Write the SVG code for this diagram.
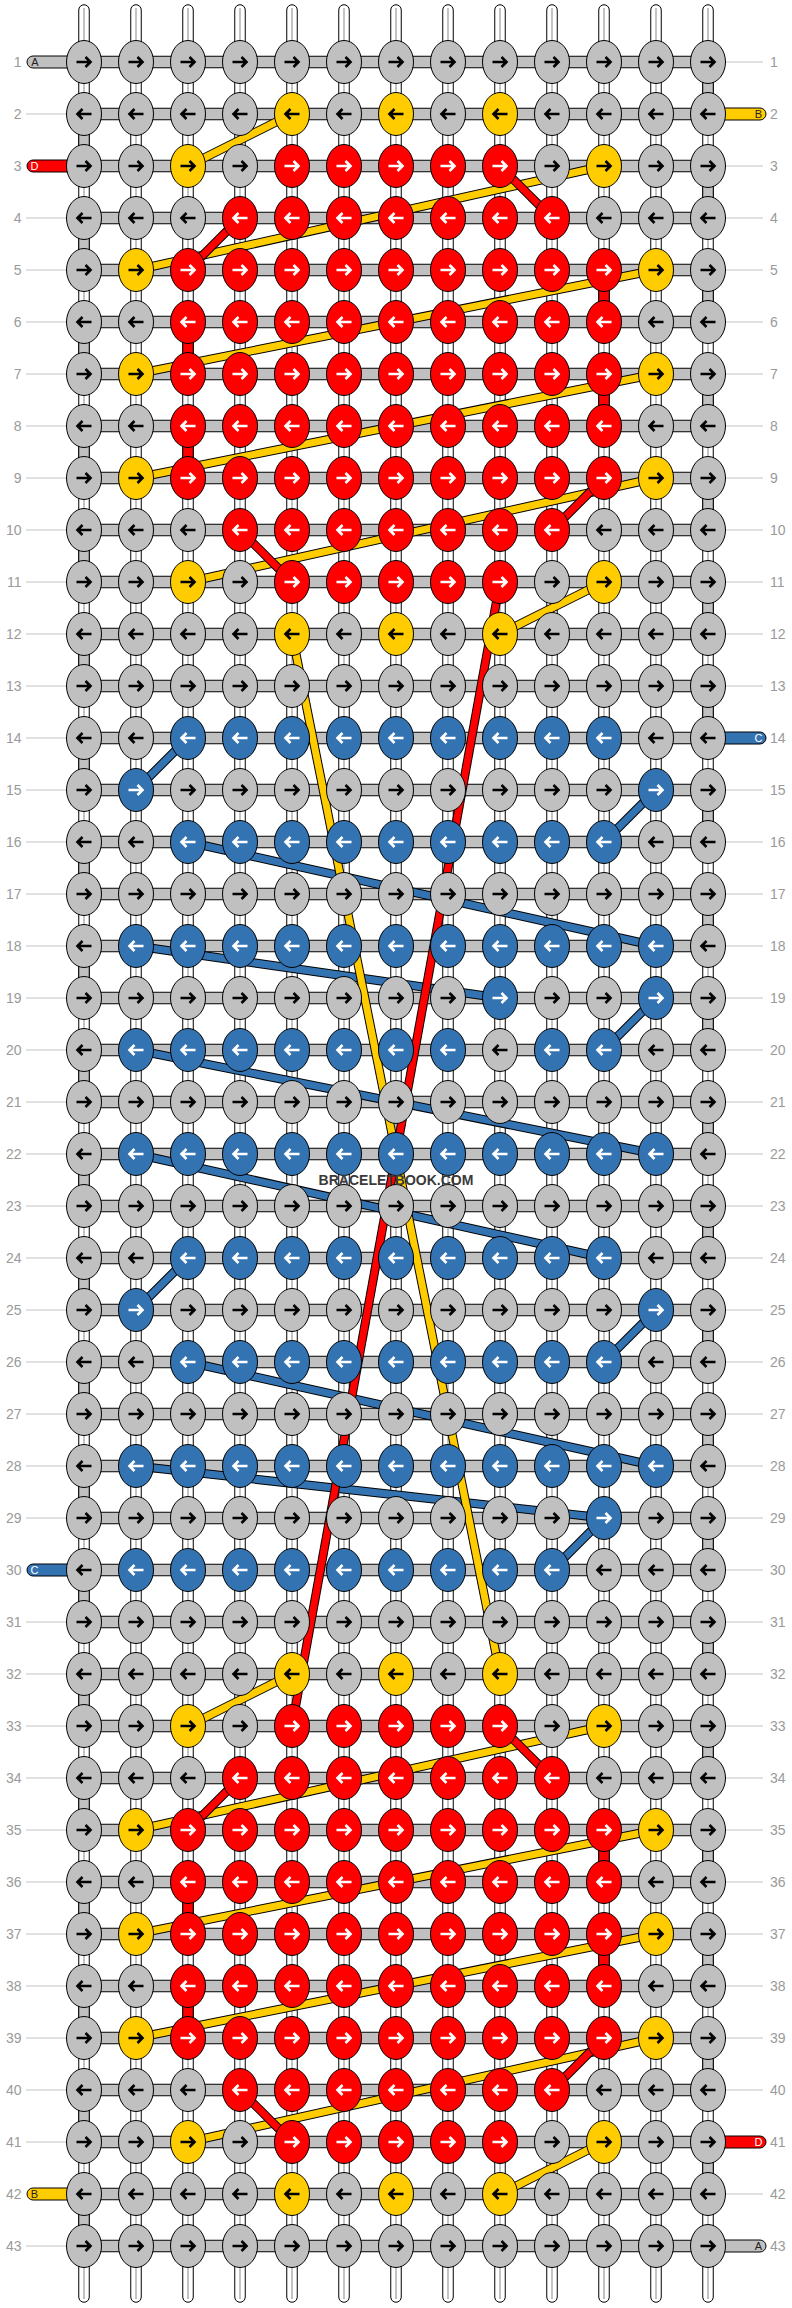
<svg xmlns="http://www.w3.org/2000/svg" width="792" height="2308" viewBox="0 0 792 2308">
<style>
ellipse{stroke:#000;stroke-width:1}
.g{fill:#c0c0c0;stroke:#000}.y{fill:#ffcc00;stroke:#000}.r{fill:#ff0000;stroke:#fff}.b{fill:#3373b2;stroke:#fff}
.vt{fill:#fff;stroke:#000;stroke-width:1}
.vc{stroke:#b4b4b4;stroke-width:1.6;fill:none}
.hb{fill:#c0c0c0;stroke:#000;stroke-width:1}
.sg{fill:#c0c0c0;stroke:#000;stroke-width:1}
.sr{fill:#ff0000;stroke:#000;stroke-width:1}
.ln{stroke:#c4c4c4;stroke-width:1}
.num{font-family:"Liberation Sans",Arial,sans-serif;font-size:14px;fill:#9a9a9a}
.tl{font-family:"Liberation Sans",Arial,sans-serif;font-size:11px;text-anchor:middle}
.o{stroke:#000;stroke-width:9;fill:none}
.cy{stroke:#ffcc00;stroke-width:7;fill:none}
.cr{stroke:#ff0000;stroke-width:7;fill:none}
.cb{stroke:#3373b2;stroke-width:7;fill:none}
.wm{font-family:"Liberation Sans",Arial,sans-serif;font-size:14px;font-weight:bold;fill:#3a3a3a;text-anchor:middle}
</style>
<defs>
<path id="R" d="M-7.5 0H5.5M1.5-5L6.5 0L1.5 5" fill="none" stroke-width="2.6"/>
<path id="L" d="M7.5 0H-5.5M-1.5-5L-6.5 0L-1.5 5" fill="none" stroke-width="2.6"/>
</defs>
<rect width="792" height="2308" fill="#fff"/>
<g id="threads">
<path class="vt" d="M78.75 2297V10a5.25 5.25 0 0 1 10.5 0V2297a5.25 5.25 0 0 1-10.5 0z"/>
<path class="vt" d="M130.75 2297V10a5.25 5.25 0 0 1 10.5 0V2297a5.25 5.25 0 0 1-10.5 0z"/>
<path class="vt" d="M182.75 2297V10a5.25 5.25 0 0 1 10.5 0V2297a5.25 5.25 0 0 1-10.5 0z"/>
<path class="vt" d="M234.75 2297V10a5.25 5.25 0 0 1 10.5 0V2297a5.25 5.25 0 0 1-10.5 0z"/>
<path class="vt" d="M286.75 2297V10a5.25 5.25 0 0 1 10.5 0V2297a5.25 5.25 0 0 1-10.5 0z"/>
<path class="vt" d="M338.75 2297V10a5.25 5.25 0 0 1 10.5 0V2297a5.25 5.25 0 0 1-10.5 0z"/>
<path class="vt" d="M390.75 2297V10a5.25 5.25 0 0 1 10.5 0V2297a5.25 5.25 0 0 1-10.5 0z"/>
<path class="vt" d="M442.75 2297V10a5.25 5.25 0 0 1 10.5 0V2297a5.25 5.25 0 0 1-10.5 0z"/>
<path class="vt" d="M494.75 2297V10a5.25 5.25 0 0 1 10.5 0V2297a5.25 5.25 0 0 1-10.5 0z"/>
<path class="vt" d="M546.75 2297V10a5.25 5.25 0 0 1 10.5 0V2297a5.25 5.25 0 0 1-10.5 0z"/>
<path class="vt" d="M598.75 2297V10a5.25 5.25 0 0 1 10.5 0V2297a5.25 5.25 0 0 1-10.5 0z"/>
<path class="vt" d="M650.75 2297V10a5.25 5.25 0 0 1 10.5 0V2297a5.25 5.25 0 0 1-10.5 0z"/>
<path class="vt" d="M702.75 2297V10a5.25 5.25 0 0 1 10.5 0V2297a5.25 5.25 0 0 1-10.5 0z"/>
<path class="vc" d="M84 8V2299M136 8V2299M188 8V2299M240 8V2299M292 8V2299M344 8V2299M396 8V2299M448 8V2299M500 8V2299M552 8V2299M604 8V2299M656 8V2299M708 8V2299"/>
<path class="sg" d="M702.75 72h10.5v32h-10.5zM702.75 176h10.5v32h-10.5zM702.75 280h10.5v32h-10.5zM702.75 384h10.5v32h-10.5zM702.75 488h10.5v32h-10.5zM702.75 592h10.5v32h-10.5zM702.75 696h10.5v32h-10.5zM702.75 800h10.5v32h-10.5zM702.75 904h10.5v32h-10.5zM702.75 1008h10.5v32h-10.5zM702.75 1112h10.5v32h-10.5zM702.75 1216h10.5v32h-10.5zM702.75 1320h10.5v32h-10.5zM702.75 1424h10.5v32h-10.5zM702.75 1528h10.5v32h-10.5zM702.75 1632h10.5v32h-10.5zM702.75 1736h10.5v32h-10.5zM702.75 1840h10.5v32h-10.5zM702.75 1944h10.5v32h-10.5zM702.75 2048h10.5v32h-10.5zM702.75 2152h10.5v32h-10.5z"/>
<path class="sg" d="M78.75 124h10.5v32h-10.5zM78.75 228h10.5v32h-10.5zM78.75 332h10.5v32h-10.5zM78.75 436h10.5v32h-10.5zM78.75 540h10.5v32h-10.5zM78.75 644h10.5v32h-10.5zM78.75 748h10.5v32h-10.5zM78.75 852h10.5v32h-10.5zM78.75 956h10.5v32h-10.5zM78.75 1060h10.5v32h-10.5zM78.75 1164h10.5v32h-10.5zM78.75 1268h10.5v32h-10.5zM78.75 1372h10.5v32h-10.5zM78.75 1476h10.5v32h-10.5zM78.75 1580h10.5v32h-10.5zM78.75 1684h10.5v32h-10.5zM78.75 1788h10.5v32h-10.5zM78.75 1892h10.5v32h-10.5zM78.75 1996h10.5v32h-10.5zM78.75 2100h10.5v32h-10.5zM78.75 2204h10.5v32h-10.5z"/>
<path class="sr" d="M598.75 280h10.5v32h-10.5zM598.75 384h10.5v32h-10.5zM598.75 1840h10.5v32h-10.5zM598.75 1944h10.5v32h-10.5zM182.75 332h10.5v32h-10.5zM182.75 436h10.5v32h-10.5zM182.75 1892h10.5v32h-10.5zM182.75 1996h10.5v32h-10.5z"/>
</g>
<g id="rows">
<path class="hb" d="M84 56.25h624v11.5h-624zM84 108.25h624v11.5h-624zM84 160.25h624v11.5h-624zM84 212.25h624v11.5h-624zM84 264.25h624v11.5h-624zM84 316.25h624v11.5h-624zM84 368.25h624v11.5h-624zM84 420.25h624v11.5h-624zM84 472.25h624v11.5h-624zM84 524.25h624v11.5h-624zM84 576.25h624v11.5h-624zM84 628.25h624v11.5h-624zM84 680.25h624v11.5h-624zM84 732.25h624v11.5h-624zM84 784.25h624v11.5h-624zM84 836.25h624v11.5h-624zM84 888.25h624v11.5h-624zM84 940.25h624v11.5h-624zM84 992.25h624v11.5h-624zM84 1044.25h624v11.5h-624zM84 1096.25h624v11.5h-624zM84 1148.25h624v11.5h-624zM84 1200.25h624v11.5h-624zM84 1252.25h624v11.5h-624zM84 1304.25h624v11.5h-624zM84 1356.25h624v11.5h-624zM84 1408.25h624v11.5h-624zM84 1460.25h624v11.5h-624zM84 1512.25h624v11.5h-624zM84 1564.25h624v11.5h-624zM84 1616.25h624v11.5h-624zM84 1668.25h624v11.5h-624zM84 1720.25h624v11.5h-624zM84 1772.25h624v11.5h-624zM84 1824.25h624v11.5h-624zM84 1876.25h624v11.5h-624zM84 1928.25h624v11.5h-624zM84 1980.25h624v11.5h-624zM84 2032.25h624v11.5h-624zM84 2084.25h624v11.5h-624zM84 2136.25h624v11.5h-624zM84 2188.25h624v11.5h-624zM84 2240.25h624v11.5h-624z"/>
</g>
<g id="tails">
<rect x="27" y="56" width="55" height="12" rx="6" fill="#c0c0c0" stroke="#000"/>
<text class="tl" x="35" y="66" fill="#222">A</text>
<rect x="27" y="160" width="55" height="12" rx="6" fill="#ff0000" stroke="#000"/>
<text class="tl" x="34.5" y="170" fill="#fff">D</text>
<rect x="27" y="1564" width="55" height="12" rx="6" fill="#3373b2" stroke="#000"/>
<text class="tl" x="34.5" y="1574" fill="#fff">C</text>
<rect x="27" y="2188" width="55" height="12" rx="6" fill="#ffcc00" stroke="#000"/>
<text class="tl" x="34.5" y="2198" fill="#222">B</text>
<rect x="710" y="108" width="56" height="12" rx="6" fill="#ffcc00" stroke="#000"/>
<text class="tl" x="758.5" y="118" fill="#222">B</text>
<rect x="710" y="732" width="56" height="12" rx="6" fill="#3373b2" stroke="#000"/>
<text class="tl" x="758.5" y="742" fill="#fff">C</text>
<rect x="710" y="2136" width="56" height="12" rx="6" fill="#ff0000" stroke="#000"/>
<text class="tl" x="758.5" y="2146" fill="#fff">D</text>
<rect x="710" y="2240" width="56" height="12" rx="6" fill="#c0c0c0" stroke="#000"/>
<text class="tl" x="758.5" y="2250" fill="#222">A</text>
</g>
<g id="labels">
<path class="ln" d="M26 114H67M26 218H67M26 270H67M26 322H67M26 374H67M26 426H67M26 478H67M26 530H67M26 582H67M26 634H67M26 686H67M26 738H67M26 790H67M26 842H67M26 894H67M26 946H67M26 998H67M26 1050H67M26 1102H67M26 1154H67M26 1206H67M26 1258H67M26 1310H67M26 1362H67M26 1414H67M26 1466H67M26 1518H67M26 1622H67M26 1674H67M26 1726H67M26 1778H67M26 1830H67M26 1882H67M26 1934H67M26 1986H67M26 2038H67M26 2090H67M26 2142H67M26 2246H67"/>
<path class="ln" d="M725 62H763M725 166H763M725 218H763M725 270H763M725 322H763M725 374H763M725 426H763M725 478H763M725 530H763M725 582H763M725 634H763M725 686H763M725 790H763M725 842H763M725 894H763M725 946H763M725 998H763M725 1050H763M725 1102H763M725 1154H763M725 1206H763M725 1258H763M725 1310H763M725 1362H763M725 1414H763M725 1466H763M725 1518H763M725 1570H763M725 1622H763M725 1674H763M725 1726H763M725 1778H763M725 1830H763M725 1882H763M725 1934H763M725 1986H763M725 2038H763M725 2090H763M725 2194H763"/>
<g class="num" text-anchor="end">
<text x="21.5" y="67">1</text><text x="21.5" y="119">2</text><text x="21.5" y="171">3</text><text x="21.5" y="223">4</text><text x="21.5" y="275">5</text><text x="21.5" y="327">6</text><text x="21.5" y="379">7</text><text x="21.5" y="431">8</text><text x="21.5" y="483">9</text><text x="21.5" y="535">10</text><text x="21.5" y="587">11</text><text x="21.5" y="639">12</text><text x="21.5" y="691">13</text><text x="21.5" y="743">14</text><text x="21.5" y="795">15</text><text x="21.5" y="847">16</text><text x="21.5" y="899">17</text><text x="21.5" y="951">18</text><text x="21.5" y="1003">19</text><text x="21.5" y="1055">20</text><text x="21.5" y="1107">21</text><text x="21.5" y="1159">22</text><text x="21.5" y="1211">23</text><text x="21.5" y="1263">24</text><text x="21.5" y="1315">25</text><text x="21.5" y="1367">26</text><text x="21.5" y="1419">27</text><text x="21.5" y="1471">28</text><text x="21.5" y="1523">29</text><text x="21.5" y="1575">30</text><text x="21.5" y="1627">31</text><text x="21.5" y="1679">32</text><text x="21.5" y="1731">33</text><text x="21.5" y="1783">34</text><text x="21.5" y="1835">35</text><text x="21.5" y="1887">36</text><text x="21.5" y="1939">37</text><text x="21.5" y="1991">38</text><text x="21.5" y="2043">39</text><text x="21.5" y="2095">40</text><text x="21.5" y="2147">41</text><text x="21.5" y="2199">42</text><text x="21.5" y="2251">43</text>
</g>
<g class="num">
<text x="770" y="67">1</text><text x="770" y="119">2</text><text x="770" y="171">3</text><text x="770" y="223">4</text><text x="770" y="275">5</text><text x="770" y="327">6</text><text x="770" y="379">7</text><text x="770" y="431">8</text><text x="770" y="483">9</text><text x="770" y="535">10</text><text x="770" y="587">11</text><text x="770" y="639">12</text><text x="770" y="691">13</text><text x="770" y="743">14</text><text x="770" y="795">15</text><text x="770" y="847">16</text><text x="770" y="899">17</text><text x="770" y="951">18</text><text x="770" y="1003">19</text><text x="770" y="1055">20</text><text x="770" y="1107">21</text><text x="770" y="1159">22</text><text x="770" y="1211">23</text><text x="770" y="1263">24</text><text x="770" y="1315">25</text><text x="770" y="1367">26</text><text x="770" y="1419">27</text><text x="770" y="1471">28</text><text x="770" y="1523">29</text><text x="770" y="1575">30</text><text x="770" y="1627">31</text><text x="770" y="1679">32</text><text x="770" y="1731">33</text><text x="770" y="1783">34</text><text x="770" y="1835">35</text><text x="770" y="1887">36</text><text x="770" y="1939">37</text><text x="770" y="1991">38</text><text x="770" y="2043">39</text><text x="770" y="2095">40</text><text x="770" y="2147">41</text><text x="770" y="2199">42</text><text x="770" y="2251">43</text>
</g>
</g>
<g id="connectors">
<path class="o" d="M188 738L136 790"/><path class="cb" d="M188 738L136 790"/>
<path class="o" d="M656 790L604 842"/><path class="cb" d="M656 790L604 842"/>
<path class="o" d="M188 842L656 946"/><path class="cb" d="M188 842L656 946"/>
<path class="o" d="M136 946L500 998"/><path class="cb" d="M136 946L500 998"/>
<path class="o" d="M656 998L604 1050"/><path class="cb" d="M656 998L604 1050"/>
<path class="o" d="M136 1050L656 1154"/><path class="cb" d="M136 1050L656 1154"/>
<path class="o" d="M136 1154L604 1258"/><path class="cb" d="M136 1154L604 1258"/>
<path class="o" d="M188 1258L136 1310"/><path class="cb" d="M188 1258L136 1310"/>
<path class="o" d="M656 1310L604 1362"/><path class="cb" d="M656 1310L604 1362"/>
<path class="o" d="M188 1362L656 1466"/><path class="cb" d="M188 1362L656 1466"/>
<path class="o" d="M136 1466L604 1518"/><path class="cb" d="M136 1466L604 1518"/>
<path class="o" d="M604 1518L552 1570"/><path class="cb" d="M604 1518L552 1570"/>
<path class="o" d="M292 114L188 166"/><path class="cy" d="M292 114L188 166"/>
<path class="o" d="M604 166L136 270"/><path class="cy" d="M604 166L136 270"/>
<path class="o" d="M656 270L136 374"/><path class="cy" d="M656 270L136 374"/>
<path class="o" d="M656 374L136 478"/><path class="cy" d="M656 374L136 478"/>
<path class="o" d="M656 478L188 582"/><path class="cy" d="M656 478L188 582"/>
<path class="o" d="M604 582L500 634"/><path class="cy" d="M604 582L500 634"/>
<path class="o" d="M292 634L500 1674"/><path class="cy" d="M292 634L500 1674"/>
<path class="o" d="M292 1674L188 1726"/><path class="cy" d="M292 1674L188 1726"/>
<path class="o" d="M604 1726L136 1830"/><path class="cy" d="M604 1726L136 1830"/>
<path class="o" d="M656 1830L136 1934"/><path class="cy" d="M656 1830L136 1934"/>
<path class="o" d="M656 1934L136 2038"/><path class="cy" d="M656 1934L136 2038"/>
<path class="o" d="M656 2038L188 2142"/><path class="cy" d="M656 2038L188 2142"/>
<path class="o" d="M604 2142L500 2194"/><path class="cy" d="M604 2142L500 2194"/>
<path class="o" d="M500 166L552 218"/><path class="cr" d="M500 166L552 218"/>
<path class="o" d="M240 218L188 270"/><path class="cr" d="M240 218L188 270"/>
<path class="o" d="M604 478L552 530"/><path class="cr" d="M604 478L552 530"/>
<path class="o" d="M240 530L292 582"/><path class="cr" d="M240 530L292 582"/>
<path class="o" d="M500 582L292 1726"/><path class="cr" d="M500 582L292 1726"/>
<path class="o" d="M500 1726L552 1778"/><path class="cr" d="M500 1726L552 1778"/>
<path class="o" d="M240 1778L188 1830"/><path class="cr" d="M240 1778L188 1830"/>
<path class="o" d="M604 2038L552 2090"/><path class="cr" d="M604 2038L552 2090"/>
<path class="o" d="M240 2090L292 2142"/><path class="cr" d="M240 2090L292 2142"/>
</g>
<g id="knots">
<g id="n1-1" class="g" transform="translate(84 62)"><ellipse rx="17.5" ry="21.5"/><use href="#R"/></g><g id="n1-2" class="g" transform="translate(136 62)"><ellipse rx="17.5" ry="21.5"/><use href="#R"/></g><g id="n1-3" class="g" transform="translate(188 62)"><ellipse rx="17.5" ry="21.5"/><use href="#R"/></g><g id="n1-4" class="g" transform="translate(240 62)"><ellipse rx="17.5" ry="21.5"/><use href="#R"/></g><g id="n1-5" class="g" transform="translate(292 62)"><ellipse rx="17.5" ry="21.5"/><use href="#R"/></g><g id="n1-6" class="g" transform="translate(344 62)"><ellipse rx="17.5" ry="21.5"/><use href="#R"/></g><g id="n1-7" class="g" transform="translate(396 62)"><ellipse rx="17.5" ry="21.5"/><use href="#R"/></g><g id="n1-8" class="g" transform="translate(448 62)"><ellipse rx="17.5" ry="21.5"/><use href="#R"/></g><g id="n1-9" class="g" transform="translate(500 62)"><ellipse rx="17.5" ry="21.5"/><use href="#R"/></g><g id="n1-10" class="g" transform="translate(552 62)"><ellipse rx="17.5" ry="21.5"/><use href="#R"/></g><g id="n1-11" class="g" transform="translate(604 62)"><ellipse rx="17.5" ry="21.5"/><use href="#R"/></g><g id="n1-12" class="g" transform="translate(656 62)"><ellipse rx="17.5" ry="21.5"/><use href="#R"/></g><g id="n1-13" class="g" transform="translate(708 62)"><ellipse rx="17.5" ry="21.5"/><use href="#R"/></g>
<g id="n2-1" class="g" transform="translate(84 114)"><ellipse rx="17.5" ry="21.5"/><use href="#L"/></g><g id="n2-2" class="g" transform="translate(136 114)"><ellipse rx="17.5" ry="21.5"/><use href="#L"/></g><g id="n2-3" class="g" transform="translate(188 114)"><ellipse rx="17.5" ry="21.5"/><use href="#L"/></g><g id="n2-4" class="g" transform="translate(240 114)"><ellipse rx="17.5" ry="21.5"/><use href="#L"/></g><g id="n2-5" class="y" transform="translate(292 114)"><ellipse rx="17.5" ry="21.5"/><use href="#L"/></g><g id="n2-6" class="g" transform="translate(344 114)"><ellipse rx="17.5" ry="21.5"/><use href="#L"/></g><g id="n2-7" class="y" transform="translate(396 114)"><ellipse rx="17.5" ry="21.5"/><use href="#L"/></g><g id="n2-8" class="g" transform="translate(448 114)"><ellipse rx="17.5" ry="21.5"/><use href="#L"/></g><g id="n2-9" class="y" transform="translate(500 114)"><ellipse rx="17.5" ry="21.5"/><use href="#L"/></g><g id="n2-10" class="g" transform="translate(552 114)"><ellipse rx="17.5" ry="21.5"/><use href="#L"/></g><g id="n2-11" class="g" transform="translate(604 114)"><ellipse rx="17.5" ry="21.5"/><use href="#L"/></g><g id="n2-12" class="g" transform="translate(656 114)"><ellipse rx="17.5" ry="21.5"/><use href="#L"/></g><g id="n2-13" class="g" transform="translate(708 114)"><ellipse rx="17.5" ry="21.5"/><use href="#L"/></g>
<g id="n3-1" class="g" transform="translate(84 166)"><ellipse rx="17.5" ry="21.5"/><use href="#R"/></g><g id="n3-2" class="g" transform="translate(136 166)"><ellipse rx="17.5" ry="21.5"/><use href="#R"/></g><g id="n3-3" class="y" transform="translate(188 166)"><ellipse rx="17.5" ry="21.5"/><use href="#R"/></g><g id="n3-4" class="g" transform="translate(240 166)"><ellipse rx="17.5" ry="21.5"/><use href="#R"/></g><g id="n3-5" class="r" transform="translate(292 166)"><ellipse rx="17.5" ry="21.5"/><use href="#R"/></g><g id="n3-6" class="r" transform="translate(344 166)"><ellipse rx="17.5" ry="21.5"/><use href="#R"/></g><g id="n3-7" class="r" transform="translate(396 166)"><ellipse rx="17.5" ry="21.5"/><use href="#R"/></g><g id="n3-8" class="r" transform="translate(448 166)"><ellipse rx="17.5" ry="21.5"/><use href="#R"/></g><g id="n3-9" class="r" transform="translate(500 166)"><ellipse rx="17.5" ry="21.5"/><use href="#R"/></g><g id="n3-10" class="g" transform="translate(552 166)"><ellipse rx="17.5" ry="21.5"/><use href="#R"/></g><g id="n3-11" class="y" transform="translate(604 166)"><ellipse rx="17.5" ry="21.5"/><use href="#R"/></g><g id="n3-12" class="g" transform="translate(656 166)"><ellipse rx="17.5" ry="21.5"/><use href="#R"/></g><g id="n3-13" class="g" transform="translate(708 166)"><ellipse rx="17.5" ry="21.5"/><use href="#R"/></g>
<g id="n4-1" class="g" transform="translate(84 218)"><ellipse rx="17.5" ry="21.5"/><use href="#L"/></g><g id="n4-2" class="g" transform="translate(136 218)"><ellipse rx="17.5" ry="21.5"/><use href="#L"/></g><g id="n4-3" class="g" transform="translate(188 218)"><ellipse rx="17.5" ry="21.5"/><use href="#L"/></g><g id="n4-4" class="r" transform="translate(240 218)"><ellipse rx="17.5" ry="21.5"/><use href="#L"/></g><g id="n4-5" class="r" transform="translate(292 218)"><ellipse rx="17.5" ry="21.5"/><use href="#L"/></g><g id="n4-6" class="r" transform="translate(344 218)"><ellipse rx="17.5" ry="21.5"/><use href="#L"/></g><g id="n4-7" class="r" transform="translate(396 218)"><ellipse rx="17.5" ry="21.5"/><use href="#L"/></g><g id="n4-8" class="r" transform="translate(448 218)"><ellipse rx="17.5" ry="21.5"/><use href="#L"/></g><g id="n4-9" class="r" transform="translate(500 218)"><ellipse rx="17.5" ry="21.5"/><use href="#L"/></g><g id="n4-10" class="r" transform="translate(552 218)"><ellipse rx="17.5" ry="21.5"/><use href="#L"/></g><g id="n4-11" class="g" transform="translate(604 218)"><ellipse rx="17.5" ry="21.5"/><use href="#L"/></g><g id="n4-12" class="g" transform="translate(656 218)"><ellipse rx="17.5" ry="21.5"/><use href="#L"/></g><g id="n4-13" class="g" transform="translate(708 218)"><ellipse rx="17.5" ry="21.5"/><use href="#L"/></g>
<g id="n5-1" class="g" transform="translate(84 270)"><ellipse rx="17.5" ry="21.5"/><use href="#R"/></g><g id="n5-2" class="y" transform="translate(136 270)"><ellipse rx="17.5" ry="21.5"/><use href="#R"/></g><g id="n5-3" class="r" transform="translate(188 270)"><ellipse rx="17.5" ry="21.5"/><use href="#R"/></g><g id="n5-4" class="r" transform="translate(240 270)"><ellipse rx="17.5" ry="21.5"/><use href="#R"/></g><g id="n5-5" class="r" transform="translate(292 270)"><ellipse rx="17.5" ry="21.5"/><use href="#R"/></g><g id="n5-6" class="r" transform="translate(344 270)"><ellipse rx="17.5" ry="21.5"/><use href="#R"/></g><g id="n5-7" class="r" transform="translate(396 270)"><ellipse rx="17.5" ry="21.5"/><use href="#R"/></g><g id="n5-8" class="r" transform="translate(448 270)"><ellipse rx="17.5" ry="21.5"/><use href="#R"/></g><g id="n5-9" class="r" transform="translate(500 270)"><ellipse rx="17.5" ry="21.5"/><use href="#R"/></g><g id="n5-10" class="r" transform="translate(552 270)"><ellipse rx="17.5" ry="21.5"/><use href="#R"/></g><g id="n5-11" class="r" transform="translate(604 270)"><ellipse rx="17.5" ry="21.5"/><use href="#R"/></g><g id="n5-12" class="y" transform="translate(656 270)"><ellipse rx="17.5" ry="21.5"/><use href="#R"/></g><g id="n5-13" class="g" transform="translate(708 270)"><ellipse rx="17.5" ry="21.5"/><use href="#R"/></g>
<g id="n6-1" class="g" transform="translate(84 322)"><ellipse rx="17.5" ry="21.5"/><use href="#L"/></g><g id="n6-2" class="g" transform="translate(136 322)"><ellipse rx="17.5" ry="21.5"/><use href="#L"/></g><g id="n6-3" class="r" transform="translate(188 322)"><ellipse rx="17.5" ry="21.5"/><use href="#L"/></g><g id="n6-4" class="r" transform="translate(240 322)"><ellipse rx="17.5" ry="21.5"/><use href="#L"/></g><g id="n6-5" class="r" transform="translate(292 322)"><ellipse rx="17.5" ry="21.5"/><use href="#L"/></g><g id="n6-6" class="r" transform="translate(344 322)"><ellipse rx="17.5" ry="21.5"/><use href="#L"/></g><g id="n6-7" class="r" transform="translate(396 322)"><ellipse rx="17.5" ry="21.5"/><use href="#L"/></g><g id="n6-8" class="r" transform="translate(448 322)"><ellipse rx="17.5" ry="21.5"/><use href="#L"/></g><g id="n6-9" class="r" transform="translate(500 322)"><ellipse rx="17.5" ry="21.5"/><use href="#L"/></g><g id="n6-10" class="r" transform="translate(552 322)"><ellipse rx="17.5" ry="21.5"/><use href="#L"/></g><g id="n6-11" class="r" transform="translate(604 322)"><ellipse rx="17.5" ry="21.5"/><use href="#L"/></g><g id="n6-12" class="g" transform="translate(656 322)"><ellipse rx="17.5" ry="21.5"/><use href="#L"/></g><g id="n6-13" class="g" transform="translate(708 322)"><ellipse rx="17.5" ry="21.5"/><use href="#L"/></g>
<g id="n7-1" class="g" transform="translate(84 374)"><ellipse rx="17.5" ry="21.5"/><use href="#R"/></g><g id="n7-2" class="y" transform="translate(136 374)"><ellipse rx="17.5" ry="21.5"/><use href="#R"/></g><g id="n7-3" class="r" transform="translate(188 374)"><ellipse rx="17.5" ry="21.5"/><use href="#R"/></g><g id="n7-4" class="r" transform="translate(240 374)"><ellipse rx="17.5" ry="21.5"/><use href="#R"/></g><g id="n7-5" class="r" transform="translate(292 374)"><ellipse rx="17.5" ry="21.5"/><use href="#R"/></g><g id="n7-6" class="r" transform="translate(344 374)"><ellipse rx="17.5" ry="21.5"/><use href="#R"/></g><g id="n7-7" class="r" transform="translate(396 374)"><ellipse rx="17.5" ry="21.5"/><use href="#R"/></g><g id="n7-8" class="r" transform="translate(448 374)"><ellipse rx="17.5" ry="21.5"/><use href="#R"/></g><g id="n7-9" class="r" transform="translate(500 374)"><ellipse rx="17.5" ry="21.5"/><use href="#R"/></g><g id="n7-10" class="r" transform="translate(552 374)"><ellipse rx="17.5" ry="21.5"/><use href="#R"/></g><g id="n7-11" class="r" transform="translate(604 374)"><ellipse rx="17.5" ry="21.5"/><use href="#R"/></g><g id="n7-12" class="y" transform="translate(656 374)"><ellipse rx="17.5" ry="21.5"/><use href="#R"/></g><g id="n7-13" class="g" transform="translate(708 374)"><ellipse rx="17.5" ry="21.5"/><use href="#R"/></g>
<g id="n8-1" class="g" transform="translate(84 426)"><ellipse rx="17.5" ry="21.5"/><use href="#L"/></g><g id="n8-2" class="g" transform="translate(136 426)"><ellipse rx="17.5" ry="21.5"/><use href="#L"/></g><g id="n8-3" class="r" transform="translate(188 426)"><ellipse rx="17.5" ry="21.5"/><use href="#L"/></g><g id="n8-4" class="r" transform="translate(240 426)"><ellipse rx="17.5" ry="21.5"/><use href="#L"/></g><g id="n8-5" class="r" transform="translate(292 426)"><ellipse rx="17.5" ry="21.5"/><use href="#L"/></g><g id="n8-6" class="r" transform="translate(344 426)"><ellipse rx="17.5" ry="21.5"/><use href="#L"/></g><g id="n8-7" class="r" transform="translate(396 426)"><ellipse rx="17.5" ry="21.5"/><use href="#L"/></g><g id="n8-8" class="r" transform="translate(448 426)"><ellipse rx="17.5" ry="21.5"/><use href="#L"/></g><g id="n8-9" class="r" transform="translate(500 426)"><ellipse rx="17.5" ry="21.5"/><use href="#L"/></g><g id="n8-10" class="r" transform="translate(552 426)"><ellipse rx="17.5" ry="21.5"/><use href="#L"/></g><g id="n8-11" class="r" transform="translate(604 426)"><ellipse rx="17.5" ry="21.5"/><use href="#L"/></g><g id="n8-12" class="g" transform="translate(656 426)"><ellipse rx="17.5" ry="21.5"/><use href="#L"/></g><g id="n8-13" class="g" transform="translate(708 426)"><ellipse rx="17.5" ry="21.5"/><use href="#L"/></g>
<g id="n9-1" class="g" transform="translate(84 478)"><ellipse rx="17.5" ry="21.5"/><use href="#R"/></g><g id="n9-2" class="y" transform="translate(136 478)"><ellipse rx="17.5" ry="21.5"/><use href="#R"/></g><g id="n9-3" class="r" transform="translate(188 478)"><ellipse rx="17.5" ry="21.5"/><use href="#R"/></g><g id="n9-4" class="r" transform="translate(240 478)"><ellipse rx="17.5" ry="21.5"/><use href="#R"/></g><g id="n9-5" class="r" transform="translate(292 478)"><ellipse rx="17.5" ry="21.5"/><use href="#R"/></g><g id="n9-6" class="r" transform="translate(344 478)"><ellipse rx="17.5" ry="21.5"/><use href="#R"/></g><g id="n9-7" class="r" transform="translate(396 478)"><ellipse rx="17.5" ry="21.5"/><use href="#R"/></g><g id="n9-8" class="r" transform="translate(448 478)"><ellipse rx="17.5" ry="21.5"/><use href="#R"/></g><g id="n9-9" class="r" transform="translate(500 478)"><ellipse rx="17.5" ry="21.5"/><use href="#R"/></g><g id="n9-10" class="r" transform="translate(552 478)"><ellipse rx="17.5" ry="21.5"/><use href="#R"/></g><g id="n9-11" class="r" transform="translate(604 478)"><ellipse rx="17.5" ry="21.5"/><use href="#R"/></g><g id="n9-12" class="y" transform="translate(656 478)"><ellipse rx="17.5" ry="21.5"/><use href="#R"/></g><g id="n9-13" class="g" transform="translate(708 478)"><ellipse rx="17.5" ry="21.5"/><use href="#R"/></g>
<g id="n10-1" class="g" transform="translate(84 530)"><ellipse rx="17.5" ry="21.5"/><use href="#L"/></g><g id="n10-2" class="g" transform="translate(136 530)"><ellipse rx="17.5" ry="21.5"/><use href="#L"/></g><g id="n10-3" class="g" transform="translate(188 530)"><ellipse rx="17.5" ry="21.5"/><use href="#L"/></g><g id="n10-4" class="r" transform="translate(240 530)"><ellipse rx="17.5" ry="21.5"/><use href="#L"/></g><g id="n10-5" class="r" transform="translate(292 530)"><ellipse rx="17.5" ry="21.5"/><use href="#L"/></g><g id="n10-6" class="r" transform="translate(344 530)"><ellipse rx="17.5" ry="21.5"/><use href="#L"/></g><g id="n10-7" class="r" transform="translate(396 530)"><ellipse rx="17.5" ry="21.5"/><use href="#L"/></g><g id="n10-8" class="r" transform="translate(448 530)"><ellipse rx="17.5" ry="21.5"/><use href="#L"/></g><g id="n10-9" class="r" transform="translate(500 530)"><ellipse rx="17.5" ry="21.5"/><use href="#L"/></g><g id="n10-10" class="r" transform="translate(552 530)"><ellipse rx="17.5" ry="21.5"/><use href="#L"/></g><g id="n10-11" class="g" transform="translate(604 530)"><ellipse rx="17.5" ry="21.5"/><use href="#L"/></g><g id="n10-12" class="g" transform="translate(656 530)"><ellipse rx="17.5" ry="21.5"/><use href="#L"/></g><g id="n10-13" class="g" transform="translate(708 530)"><ellipse rx="17.5" ry="21.5"/><use href="#L"/></g>
<g id="n11-1" class="g" transform="translate(84 582)"><ellipse rx="17.5" ry="21.5"/><use href="#R"/></g><g id="n11-2" class="g" transform="translate(136 582)"><ellipse rx="17.5" ry="21.5"/><use href="#R"/></g><g id="n11-3" class="y" transform="translate(188 582)"><ellipse rx="17.5" ry="21.5"/><use href="#R"/></g><g id="n11-4" class="g" transform="translate(240 582)"><ellipse rx="17.5" ry="21.5"/><use href="#R"/></g><g id="n11-5" class="r" transform="translate(292 582)"><ellipse rx="17.5" ry="21.5"/><use href="#R"/></g><g id="n11-6" class="r" transform="translate(344 582)"><ellipse rx="17.5" ry="21.5"/><use href="#R"/></g><g id="n11-7" class="r" transform="translate(396 582)"><ellipse rx="17.5" ry="21.5"/><use href="#R"/></g><g id="n11-8" class="r" transform="translate(448 582)"><ellipse rx="17.5" ry="21.5"/><use href="#R"/></g><g id="n11-9" class="r" transform="translate(500 582)"><ellipse rx="17.5" ry="21.5"/><use href="#R"/></g><g id="n11-10" class="g" transform="translate(552 582)"><ellipse rx="17.5" ry="21.5"/><use href="#R"/></g><g id="n11-11" class="y" transform="translate(604 582)"><ellipse rx="17.5" ry="21.5"/><use href="#R"/></g><g id="n11-12" class="g" transform="translate(656 582)"><ellipse rx="17.5" ry="21.5"/><use href="#R"/></g><g id="n11-13" class="g" transform="translate(708 582)"><ellipse rx="17.5" ry="21.5"/><use href="#R"/></g>
<g id="n12-1" class="g" transform="translate(84 634)"><ellipse rx="17.5" ry="21.5"/><use href="#L"/></g><g id="n12-2" class="g" transform="translate(136 634)"><ellipse rx="17.5" ry="21.5"/><use href="#L"/></g><g id="n12-3" class="g" transform="translate(188 634)"><ellipse rx="17.5" ry="21.5"/><use href="#L"/></g><g id="n12-4" class="g" transform="translate(240 634)"><ellipse rx="17.5" ry="21.5"/><use href="#L"/></g><g id="n12-5" class="y" transform="translate(292 634)"><ellipse rx="17.5" ry="21.5"/><use href="#L"/></g><g id="n12-6" class="g" transform="translate(344 634)"><ellipse rx="17.5" ry="21.5"/><use href="#L"/></g><g id="n12-7" class="y" transform="translate(396 634)"><ellipse rx="17.5" ry="21.5"/><use href="#L"/></g><g id="n12-8" class="g" transform="translate(448 634)"><ellipse rx="17.5" ry="21.5"/><use href="#L"/></g><g id="n12-9" class="y" transform="translate(500 634)"><ellipse rx="17.5" ry="21.5"/><use href="#L"/></g><g id="n12-10" class="g" transform="translate(552 634)"><ellipse rx="17.5" ry="21.5"/><use href="#L"/></g><g id="n12-11" class="g" transform="translate(604 634)"><ellipse rx="17.5" ry="21.5"/><use href="#L"/></g><g id="n12-12" class="g" transform="translate(656 634)"><ellipse rx="17.5" ry="21.5"/><use href="#L"/></g><g id="n12-13" class="g" transform="translate(708 634)"><ellipse rx="17.5" ry="21.5"/><use href="#L"/></g>
<g id="n13-1" class="g" transform="translate(84 686)"><ellipse rx="17.5" ry="21.5"/><use href="#R"/></g><g id="n13-2" class="g" transform="translate(136 686)"><ellipse rx="17.5" ry="21.5"/><use href="#R"/></g><g id="n13-3" class="g" transform="translate(188 686)"><ellipse rx="17.5" ry="21.5"/><use href="#R"/></g><g id="n13-4" class="g" transform="translate(240 686)"><ellipse rx="17.5" ry="21.5"/><use href="#R"/></g><g id="n13-5" class="g" transform="translate(292 686)"><ellipse rx="17.5" ry="21.5"/><use href="#R"/></g><g id="n13-6" class="g" transform="translate(344 686)"><ellipse rx="17.5" ry="21.5"/><use href="#R"/></g><g id="n13-7" class="g" transform="translate(396 686)"><ellipse rx="17.5" ry="21.5"/><use href="#R"/></g><g id="n13-8" class="g" transform="translate(448 686)"><ellipse rx="17.5" ry="21.5"/><use href="#R"/></g><g id="n13-9" class="g" transform="translate(500 686)"><ellipse rx="17.5" ry="21.5"/><use href="#R"/></g><g id="n13-10" class="g" transform="translate(552 686)"><ellipse rx="17.5" ry="21.5"/><use href="#R"/></g><g id="n13-11" class="g" transform="translate(604 686)"><ellipse rx="17.5" ry="21.5"/><use href="#R"/></g><g id="n13-12" class="g" transform="translate(656 686)"><ellipse rx="17.5" ry="21.5"/><use href="#R"/></g><g id="n13-13" class="g" transform="translate(708 686)"><ellipse rx="17.5" ry="21.5"/><use href="#R"/></g>
<g id="n14-1" class="g" transform="translate(84 738)"><ellipse rx="17.5" ry="21.5"/><use href="#L"/></g><g id="n14-2" class="g" transform="translate(136 738)"><ellipse rx="17.5" ry="21.5"/><use href="#L"/></g><g id="n14-3" class="b" transform="translate(188 738)"><ellipse rx="17.5" ry="21.5"/><use href="#L"/></g><g id="n14-4" class="b" transform="translate(240 738)"><ellipse rx="17.5" ry="21.5"/><use href="#L"/></g><g id="n14-5" class="b" transform="translate(292 738)"><ellipse rx="17.5" ry="21.5"/><use href="#L"/></g><g id="n14-6" class="b" transform="translate(344 738)"><ellipse rx="17.5" ry="21.5"/><use href="#L"/></g><g id="n14-7" class="b" transform="translate(396 738)"><ellipse rx="17.5" ry="21.5"/><use href="#L"/></g><g id="n14-8" class="b" transform="translate(448 738)"><ellipse rx="17.5" ry="21.5"/><use href="#L"/></g><g id="n14-9" class="b" transform="translate(500 738)"><ellipse rx="17.5" ry="21.5"/><use href="#L"/></g><g id="n14-10" class="b" transform="translate(552 738)"><ellipse rx="17.5" ry="21.5"/><use href="#L"/></g><g id="n14-11" class="b" transform="translate(604 738)"><ellipse rx="17.5" ry="21.5"/><use href="#L"/></g><g id="n14-12" class="g" transform="translate(656 738)"><ellipse rx="17.5" ry="21.5"/><use href="#L"/></g><g id="n14-13" class="g" transform="translate(708 738)"><ellipse rx="17.5" ry="21.5"/><use href="#L"/></g>
<g id="n15-1" class="g" transform="translate(84 790)"><ellipse rx="17.5" ry="21.5"/><use href="#R"/></g><g id="n15-2" class="b" transform="translate(136 790)"><ellipse rx="17.5" ry="21.5"/><use href="#R"/></g><g id="n15-3" class="g" transform="translate(188 790)"><ellipse rx="17.5" ry="21.5"/><use href="#R"/></g><g id="n15-4" class="g" transform="translate(240 790)"><ellipse rx="17.5" ry="21.5"/><use href="#R"/></g><g id="n15-5" class="g" transform="translate(292 790)"><ellipse rx="17.5" ry="21.5"/><use href="#R"/></g><g id="n15-6" class="g" transform="translate(344 790)"><ellipse rx="17.5" ry="21.5"/><use href="#R"/></g><g id="n15-7" class="g" transform="translate(396 790)"><ellipse rx="17.5" ry="21.5"/><use href="#R"/></g><g id="n15-8" class="g" transform="translate(448 790)"><ellipse rx="17.5" ry="21.5"/><use href="#R"/></g><g id="n15-9" class="g" transform="translate(500 790)"><ellipse rx="17.5" ry="21.5"/><use href="#R"/></g><g id="n15-10" class="g" transform="translate(552 790)"><ellipse rx="17.5" ry="21.5"/><use href="#R"/></g><g id="n15-11" class="g" transform="translate(604 790)"><ellipse rx="17.5" ry="21.5"/><use href="#R"/></g><g id="n15-12" class="b" transform="translate(656 790)"><ellipse rx="17.5" ry="21.5"/><use href="#R"/></g><g id="n15-13" class="g" transform="translate(708 790)"><ellipse rx="17.5" ry="21.5"/><use href="#R"/></g>
<g id="n16-1" class="g" transform="translate(84 842)"><ellipse rx="17.5" ry="21.5"/><use href="#L"/></g><g id="n16-2" class="g" transform="translate(136 842)"><ellipse rx="17.5" ry="21.5"/><use href="#L"/></g><g id="n16-3" class="b" transform="translate(188 842)"><ellipse rx="17.5" ry="21.5"/><use href="#L"/></g><g id="n16-4" class="b" transform="translate(240 842)"><ellipse rx="17.5" ry="21.5"/><use href="#L"/></g><g id="n16-5" class="b" transform="translate(292 842)"><ellipse rx="17.5" ry="21.5"/><use href="#L"/></g><g id="n16-6" class="b" transform="translate(344 842)"><ellipse rx="17.5" ry="21.5"/><use href="#L"/></g><g id="n16-7" class="b" transform="translate(396 842)"><ellipse rx="17.5" ry="21.5"/><use href="#L"/></g><g id="n16-8" class="b" transform="translate(448 842)"><ellipse rx="17.5" ry="21.5"/><use href="#L"/></g><g id="n16-9" class="b" transform="translate(500 842)"><ellipse rx="17.5" ry="21.5"/><use href="#L"/></g><g id="n16-10" class="b" transform="translate(552 842)"><ellipse rx="17.5" ry="21.5"/><use href="#L"/></g><g id="n16-11" class="b" transform="translate(604 842)"><ellipse rx="17.5" ry="21.5"/><use href="#L"/></g><g id="n16-12" class="g" transform="translate(656 842)"><ellipse rx="17.5" ry="21.5"/><use href="#L"/></g><g id="n16-13" class="g" transform="translate(708 842)"><ellipse rx="17.5" ry="21.5"/><use href="#L"/></g>
<g id="n17-1" class="g" transform="translate(84 894)"><ellipse rx="17.5" ry="21.5"/><use href="#R"/></g><g id="n17-2" class="g" transform="translate(136 894)"><ellipse rx="17.5" ry="21.5"/><use href="#R"/></g><g id="n17-3" class="g" transform="translate(188 894)"><ellipse rx="17.5" ry="21.5"/><use href="#R"/></g><g id="n17-4" class="g" transform="translate(240 894)"><ellipse rx="17.5" ry="21.5"/><use href="#R"/></g><g id="n17-5" class="g" transform="translate(292 894)"><ellipse rx="17.5" ry="21.5"/><use href="#R"/></g><g id="n17-6" class="g" transform="translate(344 894)"><ellipse rx="17.5" ry="21.5"/><use href="#R"/></g><g id="n17-7" class="g" transform="translate(396 894)"><ellipse rx="17.5" ry="21.5"/><use href="#R"/></g><g id="n17-8" class="g" transform="translate(448 894)"><ellipse rx="17.5" ry="21.5"/><use href="#R"/></g><g id="n17-9" class="g" transform="translate(500 894)"><ellipse rx="17.5" ry="21.5"/><use href="#R"/></g><g id="n17-10" class="g" transform="translate(552 894)"><ellipse rx="17.5" ry="21.5"/><use href="#R"/></g><g id="n17-11" class="g" transform="translate(604 894)"><ellipse rx="17.5" ry="21.5"/><use href="#R"/></g><g id="n17-12" class="g" transform="translate(656 894)"><ellipse rx="17.5" ry="21.5"/><use href="#R"/></g><g id="n17-13" class="g" transform="translate(708 894)"><ellipse rx="17.5" ry="21.5"/><use href="#R"/></g>
<g id="n18-1" class="g" transform="translate(84 946)"><ellipse rx="17.5" ry="21.5"/><use href="#L"/></g><g id="n18-2" class="b" transform="translate(136 946)"><ellipse rx="17.5" ry="21.5"/><use href="#L"/></g><g id="n18-3" class="b" transform="translate(188 946)"><ellipse rx="17.5" ry="21.5"/><use href="#L"/></g><g id="n18-4" class="b" transform="translate(240 946)"><ellipse rx="17.5" ry="21.5"/><use href="#L"/></g><g id="n18-5" class="b" transform="translate(292 946)"><ellipse rx="17.5" ry="21.5"/><use href="#L"/></g><g id="n18-6" class="b" transform="translate(344 946)"><ellipse rx="17.5" ry="21.5"/><use href="#L"/></g><g id="n18-7" class="b" transform="translate(396 946)"><ellipse rx="17.5" ry="21.5"/><use href="#L"/></g><g id="n18-8" class="b" transform="translate(448 946)"><ellipse rx="17.5" ry="21.5"/><use href="#L"/></g><g id="n18-9" class="b" transform="translate(500 946)"><ellipse rx="17.5" ry="21.5"/><use href="#L"/></g><g id="n18-10" class="b" transform="translate(552 946)"><ellipse rx="17.5" ry="21.5"/><use href="#L"/></g><g id="n18-11" class="b" transform="translate(604 946)"><ellipse rx="17.5" ry="21.5"/><use href="#L"/></g><g id="n18-12" class="b" transform="translate(656 946)"><ellipse rx="17.5" ry="21.5"/><use href="#L"/></g><g id="n18-13" class="g" transform="translate(708 946)"><ellipse rx="17.5" ry="21.5"/><use href="#L"/></g>
<g id="n19-1" class="g" transform="translate(84 998)"><ellipse rx="17.5" ry="21.5"/><use href="#R"/></g><g id="n19-2" class="g" transform="translate(136 998)"><ellipse rx="17.5" ry="21.5"/><use href="#R"/></g><g id="n19-3" class="g" transform="translate(188 998)"><ellipse rx="17.5" ry="21.5"/><use href="#R"/></g><g id="n19-4" class="g" transform="translate(240 998)"><ellipse rx="17.5" ry="21.5"/><use href="#R"/></g><g id="n19-5" class="g" transform="translate(292 998)"><ellipse rx="17.5" ry="21.5"/><use href="#R"/></g><g id="n19-6" class="g" transform="translate(344 998)"><ellipse rx="17.5" ry="21.5"/><use href="#R"/></g><g id="n19-7" class="g" transform="translate(396 998)"><ellipse rx="17.5" ry="21.5"/><use href="#R"/></g><g id="n19-8" class="g" transform="translate(448 998)"><ellipse rx="17.5" ry="21.5"/><use href="#R"/></g><g id="n19-9" class="b" transform="translate(500 998)"><ellipse rx="17.5" ry="21.5"/><use href="#R"/></g><g id="n19-10" class="g" transform="translate(552 998)"><ellipse rx="17.5" ry="21.5"/><use href="#R"/></g><g id="n19-11" class="g" transform="translate(604 998)"><ellipse rx="17.5" ry="21.5"/><use href="#R"/></g><g id="n19-12" class="b" transform="translate(656 998)"><ellipse rx="17.5" ry="21.5"/><use href="#R"/></g><g id="n19-13" class="g" transform="translate(708 998)"><ellipse rx="17.5" ry="21.5"/><use href="#R"/></g>
<g id="n20-1" class="g" transform="translate(84 1050)"><ellipse rx="17.5" ry="21.5"/><use href="#L"/></g><g id="n20-2" class="b" transform="translate(136 1050)"><ellipse rx="17.5" ry="21.5"/><use href="#L"/></g><g id="n20-3" class="b" transform="translate(188 1050)"><ellipse rx="17.5" ry="21.5"/><use href="#L"/></g><g id="n20-4" class="b" transform="translate(240 1050)"><ellipse rx="17.5" ry="21.5"/><use href="#L"/></g><g id="n20-5" class="b" transform="translate(292 1050)"><ellipse rx="17.5" ry="21.5"/><use href="#L"/></g><g id="n20-6" class="b" transform="translate(344 1050)"><ellipse rx="17.5" ry="21.5"/><use href="#L"/></g><g id="n20-7" class="b" transform="translate(396 1050)"><ellipse rx="17.5" ry="21.5"/><use href="#L"/></g><g id="n20-8" class="b" transform="translate(448 1050)"><ellipse rx="17.5" ry="21.5"/><use href="#L"/></g><g id="n20-9" class="g" transform="translate(500 1050)"><ellipse rx="17.5" ry="21.5"/><use href="#L"/></g><g id="n20-10" class="b" transform="translate(552 1050)"><ellipse rx="17.5" ry="21.5"/><use href="#L"/></g><g id="n20-11" class="b" transform="translate(604 1050)"><ellipse rx="17.5" ry="21.5"/><use href="#L"/></g><g id="n20-12" class="g" transform="translate(656 1050)"><ellipse rx="17.5" ry="21.5"/><use href="#L"/></g><g id="n20-13" class="g" transform="translate(708 1050)"><ellipse rx="17.5" ry="21.5"/><use href="#L"/></g>
<g id="n21-1" class="g" transform="translate(84 1102)"><ellipse rx="17.5" ry="21.5"/><use href="#R"/></g><g id="n21-2" class="g" transform="translate(136 1102)"><ellipse rx="17.5" ry="21.5"/><use href="#R"/></g><g id="n21-3" class="g" transform="translate(188 1102)"><ellipse rx="17.5" ry="21.5"/><use href="#R"/></g><g id="n21-4" class="g" transform="translate(240 1102)"><ellipse rx="17.5" ry="21.5"/><use href="#R"/></g><g id="n21-5" class="g" transform="translate(292 1102)"><ellipse rx="17.5" ry="21.5"/><use href="#R"/></g><g id="n21-6" class="g" transform="translate(344 1102)"><ellipse rx="17.5" ry="21.5"/><use href="#R"/></g><g id="n21-7" class="g" transform="translate(396 1102)"><ellipse rx="17.5" ry="21.5"/><use href="#R"/></g><g id="n21-8" class="g" transform="translate(448 1102)"><ellipse rx="17.5" ry="21.5"/><use href="#R"/></g><g id="n21-9" class="g" transform="translate(500 1102)"><ellipse rx="17.5" ry="21.5"/><use href="#R"/></g><g id="n21-10" class="g" transform="translate(552 1102)"><ellipse rx="17.5" ry="21.5"/><use href="#R"/></g><g id="n21-11" class="g" transform="translate(604 1102)"><ellipse rx="17.5" ry="21.5"/><use href="#R"/></g><g id="n21-12" class="g" transform="translate(656 1102)"><ellipse rx="17.5" ry="21.5"/><use href="#R"/></g><g id="n21-13" class="g" transform="translate(708 1102)"><ellipse rx="17.5" ry="21.5"/><use href="#R"/></g>
<g id="n22-1" class="g" transform="translate(84 1154)"><ellipse rx="17.5" ry="21.5"/><use href="#L"/></g><g id="n22-2" class="b" transform="translate(136 1154)"><ellipse rx="17.5" ry="21.5"/><use href="#L"/></g><g id="n22-3" class="b" transform="translate(188 1154)"><ellipse rx="17.5" ry="21.5"/><use href="#L"/></g><g id="n22-4" class="b" transform="translate(240 1154)"><ellipse rx="17.5" ry="21.5"/><use href="#L"/></g><g id="n22-5" class="b" transform="translate(292 1154)"><ellipse rx="17.5" ry="21.5"/><use href="#L"/></g><g id="n22-6" class="b" transform="translate(344 1154)"><ellipse rx="17.5" ry="21.5"/><use href="#L"/></g><g id="n22-7" class="b" transform="translate(396 1154)"><ellipse rx="17.5" ry="21.5"/><use href="#L"/></g><g id="n22-8" class="b" transform="translate(448 1154)"><ellipse rx="17.5" ry="21.5"/><use href="#L"/></g><g id="n22-9" class="b" transform="translate(500 1154)"><ellipse rx="17.5" ry="21.5"/><use href="#L"/></g><g id="n22-10" class="b" transform="translate(552 1154)"><ellipse rx="17.5" ry="21.5"/><use href="#L"/></g><g id="n22-11" class="b" transform="translate(604 1154)"><ellipse rx="17.5" ry="21.5"/><use href="#L"/></g><g id="n22-12" class="b" transform="translate(656 1154)"><ellipse rx="17.5" ry="21.5"/><use href="#L"/></g><g id="n22-13" class="g" transform="translate(708 1154)"><ellipse rx="17.5" ry="21.5"/><use href="#L"/></g>
<g id="n23-1" class="g" transform="translate(84 1206)"><ellipse rx="17.5" ry="21.5"/><use href="#R"/></g><g id="n23-2" class="g" transform="translate(136 1206)"><ellipse rx="17.5" ry="21.5"/><use href="#R"/></g><g id="n23-3" class="g" transform="translate(188 1206)"><ellipse rx="17.5" ry="21.5"/><use href="#R"/></g><g id="n23-4" class="g" transform="translate(240 1206)"><ellipse rx="17.5" ry="21.5"/><use href="#R"/></g><g id="n23-5" class="g" transform="translate(292 1206)"><ellipse rx="17.5" ry="21.5"/><use href="#R"/></g><g id="n23-6" class="g" transform="translate(344 1206)"><ellipse rx="17.5" ry="21.5"/><use href="#R"/></g><g id="n23-7" class="g" transform="translate(396 1206)"><ellipse rx="17.5" ry="21.5"/><use href="#R"/></g><g id="n23-8" class="g" transform="translate(448 1206)"><ellipse rx="17.5" ry="21.5"/><use href="#R"/></g><g id="n23-9" class="g" transform="translate(500 1206)"><ellipse rx="17.5" ry="21.5"/><use href="#R"/></g><g id="n23-10" class="g" transform="translate(552 1206)"><ellipse rx="17.5" ry="21.5"/><use href="#R"/></g><g id="n23-11" class="g" transform="translate(604 1206)"><ellipse rx="17.5" ry="21.5"/><use href="#R"/></g><g id="n23-12" class="g" transform="translate(656 1206)"><ellipse rx="17.5" ry="21.5"/><use href="#R"/></g><g id="n23-13" class="g" transform="translate(708 1206)"><ellipse rx="17.5" ry="21.5"/><use href="#R"/></g>
<g id="n24-1" class="g" transform="translate(84 1258)"><ellipse rx="17.5" ry="21.5"/><use href="#L"/></g><g id="n24-2" class="g" transform="translate(136 1258)"><ellipse rx="17.5" ry="21.5"/><use href="#L"/></g><g id="n24-3" class="b" transform="translate(188 1258)"><ellipse rx="17.5" ry="21.5"/><use href="#L"/></g><g id="n24-4" class="b" transform="translate(240 1258)"><ellipse rx="17.5" ry="21.5"/><use href="#L"/></g><g id="n24-5" class="b" transform="translate(292 1258)"><ellipse rx="17.5" ry="21.5"/><use href="#L"/></g><g id="n24-6" class="b" transform="translate(344 1258)"><ellipse rx="17.5" ry="21.5"/><use href="#L"/></g><g id="n24-7" class="b" transform="translate(396 1258)"><ellipse rx="17.5" ry="21.5"/><use href="#L"/></g><g id="n24-8" class="b" transform="translate(448 1258)"><ellipse rx="17.5" ry="21.5"/><use href="#L"/></g><g id="n24-9" class="b" transform="translate(500 1258)"><ellipse rx="17.5" ry="21.5"/><use href="#L"/></g><g id="n24-10" class="b" transform="translate(552 1258)"><ellipse rx="17.5" ry="21.5"/><use href="#L"/></g><g id="n24-11" class="b" transform="translate(604 1258)"><ellipse rx="17.5" ry="21.5"/><use href="#L"/></g><g id="n24-12" class="g" transform="translate(656 1258)"><ellipse rx="17.5" ry="21.5"/><use href="#L"/></g><g id="n24-13" class="g" transform="translate(708 1258)"><ellipse rx="17.5" ry="21.5"/><use href="#L"/></g>
<g id="n25-1" class="g" transform="translate(84 1310)"><ellipse rx="17.5" ry="21.5"/><use href="#R"/></g><g id="n25-2" class="b" transform="translate(136 1310)"><ellipse rx="17.5" ry="21.5"/><use href="#R"/></g><g id="n25-3" class="g" transform="translate(188 1310)"><ellipse rx="17.5" ry="21.5"/><use href="#R"/></g><g id="n25-4" class="g" transform="translate(240 1310)"><ellipse rx="17.5" ry="21.5"/><use href="#R"/></g><g id="n25-5" class="g" transform="translate(292 1310)"><ellipse rx="17.5" ry="21.5"/><use href="#R"/></g><g id="n25-6" class="g" transform="translate(344 1310)"><ellipse rx="17.5" ry="21.5"/><use href="#R"/></g><g id="n25-7" class="g" transform="translate(396 1310)"><ellipse rx="17.5" ry="21.5"/><use href="#R"/></g><g id="n25-8" class="g" transform="translate(448 1310)"><ellipse rx="17.5" ry="21.5"/><use href="#R"/></g><g id="n25-9" class="g" transform="translate(500 1310)"><ellipse rx="17.5" ry="21.5"/><use href="#R"/></g><g id="n25-10" class="g" transform="translate(552 1310)"><ellipse rx="17.5" ry="21.5"/><use href="#R"/></g><g id="n25-11" class="g" transform="translate(604 1310)"><ellipse rx="17.5" ry="21.5"/><use href="#R"/></g><g id="n25-12" class="b" transform="translate(656 1310)"><ellipse rx="17.5" ry="21.5"/><use href="#R"/></g><g id="n25-13" class="g" transform="translate(708 1310)"><ellipse rx="17.5" ry="21.5"/><use href="#R"/></g>
<g id="n26-1" class="g" transform="translate(84 1362)"><ellipse rx="17.5" ry="21.5"/><use href="#L"/></g><g id="n26-2" class="g" transform="translate(136 1362)"><ellipse rx="17.5" ry="21.5"/><use href="#L"/></g><g id="n26-3" class="b" transform="translate(188 1362)"><ellipse rx="17.5" ry="21.5"/><use href="#L"/></g><g id="n26-4" class="b" transform="translate(240 1362)"><ellipse rx="17.5" ry="21.5"/><use href="#L"/></g><g id="n26-5" class="b" transform="translate(292 1362)"><ellipse rx="17.5" ry="21.5"/><use href="#L"/></g><g id="n26-6" class="b" transform="translate(344 1362)"><ellipse rx="17.5" ry="21.5"/><use href="#L"/></g><g id="n26-7" class="b" transform="translate(396 1362)"><ellipse rx="17.5" ry="21.5"/><use href="#L"/></g><g id="n26-8" class="b" transform="translate(448 1362)"><ellipse rx="17.5" ry="21.5"/><use href="#L"/></g><g id="n26-9" class="b" transform="translate(500 1362)"><ellipse rx="17.5" ry="21.5"/><use href="#L"/></g><g id="n26-10" class="b" transform="translate(552 1362)"><ellipse rx="17.5" ry="21.5"/><use href="#L"/></g><g id="n26-11" class="b" transform="translate(604 1362)"><ellipse rx="17.5" ry="21.5"/><use href="#L"/></g><g id="n26-12" class="g" transform="translate(656 1362)"><ellipse rx="17.5" ry="21.5"/><use href="#L"/></g><g id="n26-13" class="g" transform="translate(708 1362)"><ellipse rx="17.5" ry="21.5"/><use href="#L"/></g>
<g id="n27-1" class="g" transform="translate(84 1414)"><ellipse rx="17.5" ry="21.5"/><use href="#R"/></g><g id="n27-2" class="g" transform="translate(136 1414)"><ellipse rx="17.5" ry="21.5"/><use href="#R"/></g><g id="n27-3" class="g" transform="translate(188 1414)"><ellipse rx="17.5" ry="21.5"/><use href="#R"/></g><g id="n27-4" class="g" transform="translate(240 1414)"><ellipse rx="17.5" ry="21.5"/><use href="#R"/></g><g id="n27-5" class="g" transform="translate(292 1414)"><ellipse rx="17.5" ry="21.5"/><use href="#R"/></g><g id="n27-6" class="g" transform="translate(344 1414)"><ellipse rx="17.5" ry="21.5"/><use href="#R"/></g><g id="n27-7" class="g" transform="translate(396 1414)"><ellipse rx="17.5" ry="21.5"/><use href="#R"/></g><g id="n27-8" class="g" transform="translate(448 1414)"><ellipse rx="17.5" ry="21.5"/><use href="#R"/></g><g id="n27-9" class="g" transform="translate(500 1414)"><ellipse rx="17.5" ry="21.5"/><use href="#R"/></g><g id="n27-10" class="g" transform="translate(552 1414)"><ellipse rx="17.5" ry="21.5"/><use href="#R"/></g><g id="n27-11" class="g" transform="translate(604 1414)"><ellipse rx="17.5" ry="21.5"/><use href="#R"/></g><g id="n27-12" class="g" transform="translate(656 1414)"><ellipse rx="17.5" ry="21.5"/><use href="#R"/></g><g id="n27-13" class="g" transform="translate(708 1414)"><ellipse rx="17.5" ry="21.5"/><use href="#R"/></g>
<g id="n28-1" class="g" transform="translate(84 1466)"><ellipse rx="17.5" ry="21.5"/><use href="#L"/></g><g id="n28-2" class="b" transform="translate(136 1466)"><ellipse rx="17.5" ry="21.5"/><use href="#L"/></g><g id="n28-3" class="b" transform="translate(188 1466)"><ellipse rx="17.5" ry="21.5"/><use href="#L"/></g><g id="n28-4" class="b" transform="translate(240 1466)"><ellipse rx="17.5" ry="21.5"/><use href="#L"/></g><g id="n28-5" class="b" transform="translate(292 1466)"><ellipse rx="17.5" ry="21.5"/><use href="#L"/></g><g id="n28-6" class="b" transform="translate(344 1466)"><ellipse rx="17.5" ry="21.5"/><use href="#L"/></g><g id="n28-7" class="b" transform="translate(396 1466)"><ellipse rx="17.5" ry="21.5"/><use href="#L"/></g><g id="n28-8" class="b" transform="translate(448 1466)"><ellipse rx="17.5" ry="21.5"/><use href="#L"/></g><g id="n28-9" class="b" transform="translate(500 1466)"><ellipse rx="17.5" ry="21.5"/><use href="#L"/></g><g id="n28-10" class="b" transform="translate(552 1466)"><ellipse rx="17.5" ry="21.5"/><use href="#L"/></g><g id="n28-11" class="b" transform="translate(604 1466)"><ellipse rx="17.5" ry="21.5"/><use href="#L"/></g><g id="n28-12" class="b" transform="translate(656 1466)"><ellipse rx="17.5" ry="21.5"/><use href="#L"/></g><g id="n28-13" class="g" transform="translate(708 1466)"><ellipse rx="17.5" ry="21.5"/><use href="#L"/></g>
<g id="n29-1" class="g" transform="translate(84 1518)"><ellipse rx="17.5" ry="21.5"/><use href="#R"/></g><g id="n29-2" class="g" transform="translate(136 1518)"><ellipse rx="17.5" ry="21.5"/><use href="#R"/></g><g id="n29-3" class="g" transform="translate(188 1518)"><ellipse rx="17.5" ry="21.5"/><use href="#R"/></g><g id="n29-4" class="g" transform="translate(240 1518)"><ellipse rx="17.5" ry="21.5"/><use href="#R"/></g><g id="n29-5" class="g" transform="translate(292 1518)"><ellipse rx="17.5" ry="21.5"/><use href="#R"/></g><g id="n29-6" class="g" transform="translate(344 1518)"><ellipse rx="17.5" ry="21.5"/><use href="#R"/></g><g id="n29-7" class="g" transform="translate(396 1518)"><ellipse rx="17.5" ry="21.5"/><use href="#R"/></g><g id="n29-8" class="g" transform="translate(448 1518)"><ellipse rx="17.5" ry="21.5"/><use href="#R"/></g><g id="n29-9" class="g" transform="translate(500 1518)"><ellipse rx="17.5" ry="21.5"/><use href="#R"/></g><g id="n29-10" class="g" transform="translate(552 1518)"><ellipse rx="17.5" ry="21.5"/><use href="#R"/></g><g id="n29-11" class="b" transform="translate(604 1518)"><ellipse rx="17.5" ry="21.5"/><use href="#R"/></g><g id="n29-12" class="g" transform="translate(656 1518)"><ellipse rx="17.5" ry="21.5"/><use href="#R"/></g><g id="n29-13" class="g" transform="translate(708 1518)"><ellipse rx="17.5" ry="21.5"/><use href="#R"/></g>
<g id="n30-1" class="g" transform="translate(84 1570)"><ellipse rx="17.5" ry="21.5"/><use href="#L"/></g><g id="n30-2" class="b" transform="translate(136 1570)"><ellipse rx="17.5" ry="21.5"/><use href="#L"/></g><g id="n30-3" class="b" transform="translate(188 1570)"><ellipse rx="17.5" ry="21.5"/><use href="#L"/></g><g id="n30-4" class="b" transform="translate(240 1570)"><ellipse rx="17.5" ry="21.5"/><use href="#L"/></g><g id="n30-5" class="b" transform="translate(292 1570)"><ellipse rx="17.5" ry="21.5"/><use href="#L"/></g><g id="n30-6" class="b" transform="translate(344 1570)"><ellipse rx="17.5" ry="21.5"/><use href="#L"/></g><g id="n30-7" class="b" transform="translate(396 1570)"><ellipse rx="17.5" ry="21.5"/><use href="#L"/></g><g id="n30-8" class="b" transform="translate(448 1570)"><ellipse rx="17.5" ry="21.5"/><use href="#L"/></g><g id="n30-9" class="b" transform="translate(500 1570)"><ellipse rx="17.5" ry="21.5"/><use href="#L"/></g><g id="n30-10" class="b" transform="translate(552 1570)"><ellipse rx="17.5" ry="21.5"/><use href="#L"/></g><g id="n30-11" class="g" transform="translate(604 1570)"><ellipse rx="17.5" ry="21.5"/><use href="#L"/></g><g id="n30-12" class="g" transform="translate(656 1570)"><ellipse rx="17.5" ry="21.5"/><use href="#L"/></g><g id="n30-13" class="g" transform="translate(708 1570)"><ellipse rx="17.5" ry="21.5"/><use href="#L"/></g>
<g id="n31-1" class="g" transform="translate(84 1622)"><ellipse rx="17.5" ry="21.5"/><use href="#R"/></g><g id="n31-2" class="g" transform="translate(136 1622)"><ellipse rx="17.5" ry="21.5"/><use href="#R"/></g><g id="n31-3" class="g" transform="translate(188 1622)"><ellipse rx="17.5" ry="21.5"/><use href="#R"/></g><g id="n31-4" class="g" transform="translate(240 1622)"><ellipse rx="17.5" ry="21.5"/><use href="#R"/></g><g id="n31-5" class="g" transform="translate(292 1622)"><ellipse rx="17.5" ry="21.5"/><use href="#R"/></g><g id="n31-6" class="g" transform="translate(344 1622)"><ellipse rx="17.5" ry="21.5"/><use href="#R"/></g><g id="n31-7" class="g" transform="translate(396 1622)"><ellipse rx="17.5" ry="21.5"/><use href="#R"/></g><g id="n31-8" class="g" transform="translate(448 1622)"><ellipse rx="17.5" ry="21.5"/><use href="#R"/></g><g id="n31-9" class="g" transform="translate(500 1622)"><ellipse rx="17.5" ry="21.5"/><use href="#R"/></g><g id="n31-10" class="g" transform="translate(552 1622)"><ellipse rx="17.5" ry="21.5"/><use href="#R"/></g><g id="n31-11" class="g" transform="translate(604 1622)"><ellipse rx="17.5" ry="21.5"/><use href="#R"/></g><g id="n31-12" class="g" transform="translate(656 1622)"><ellipse rx="17.5" ry="21.5"/><use href="#R"/></g><g id="n31-13" class="g" transform="translate(708 1622)"><ellipse rx="17.5" ry="21.5"/><use href="#R"/></g>
<g id="n32-1" class="g" transform="translate(84 1674)"><ellipse rx="17.5" ry="21.5"/><use href="#L"/></g><g id="n32-2" class="g" transform="translate(136 1674)"><ellipse rx="17.5" ry="21.5"/><use href="#L"/></g><g id="n32-3" class="g" transform="translate(188 1674)"><ellipse rx="17.5" ry="21.5"/><use href="#L"/></g><g id="n32-4" class="g" transform="translate(240 1674)"><ellipse rx="17.5" ry="21.5"/><use href="#L"/></g><g id="n32-5" class="y" transform="translate(292 1674)"><ellipse rx="17.5" ry="21.5"/><use href="#L"/></g><g id="n32-6" class="g" transform="translate(344 1674)"><ellipse rx="17.5" ry="21.5"/><use href="#L"/></g><g id="n32-7" class="y" transform="translate(396 1674)"><ellipse rx="17.5" ry="21.5"/><use href="#L"/></g><g id="n32-8" class="g" transform="translate(448 1674)"><ellipse rx="17.5" ry="21.5"/><use href="#L"/></g><g id="n32-9" class="y" transform="translate(500 1674)"><ellipse rx="17.5" ry="21.5"/><use href="#L"/></g><g id="n32-10" class="g" transform="translate(552 1674)"><ellipse rx="17.5" ry="21.5"/><use href="#L"/></g><g id="n32-11" class="g" transform="translate(604 1674)"><ellipse rx="17.5" ry="21.5"/><use href="#L"/></g><g id="n32-12" class="g" transform="translate(656 1674)"><ellipse rx="17.5" ry="21.5"/><use href="#L"/></g><g id="n32-13" class="g" transform="translate(708 1674)"><ellipse rx="17.5" ry="21.5"/><use href="#L"/></g>
<g id="n33-1" class="g" transform="translate(84 1726)"><ellipse rx="17.5" ry="21.5"/><use href="#R"/></g><g id="n33-2" class="g" transform="translate(136 1726)"><ellipse rx="17.5" ry="21.5"/><use href="#R"/></g><g id="n33-3" class="y" transform="translate(188 1726)"><ellipse rx="17.5" ry="21.5"/><use href="#R"/></g><g id="n33-4" class="g" transform="translate(240 1726)"><ellipse rx="17.5" ry="21.5"/><use href="#R"/></g><g id="n33-5" class="r" transform="translate(292 1726)"><ellipse rx="17.5" ry="21.5"/><use href="#R"/></g><g id="n33-6" class="r" transform="translate(344 1726)"><ellipse rx="17.5" ry="21.5"/><use href="#R"/></g><g id="n33-7" class="r" transform="translate(396 1726)"><ellipse rx="17.5" ry="21.5"/><use href="#R"/></g><g id="n33-8" class="r" transform="translate(448 1726)"><ellipse rx="17.5" ry="21.5"/><use href="#R"/></g><g id="n33-9" class="r" transform="translate(500 1726)"><ellipse rx="17.5" ry="21.5"/><use href="#R"/></g><g id="n33-10" class="g" transform="translate(552 1726)"><ellipse rx="17.5" ry="21.5"/><use href="#R"/></g><g id="n33-11" class="y" transform="translate(604 1726)"><ellipse rx="17.5" ry="21.5"/><use href="#R"/></g><g id="n33-12" class="g" transform="translate(656 1726)"><ellipse rx="17.5" ry="21.5"/><use href="#R"/></g><g id="n33-13" class="g" transform="translate(708 1726)"><ellipse rx="17.5" ry="21.5"/><use href="#R"/></g>
<g id="n34-1" class="g" transform="translate(84 1778)"><ellipse rx="17.5" ry="21.5"/><use href="#L"/></g><g id="n34-2" class="g" transform="translate(136 1778)"><ellipse rx="17.5" ry="21.5"/><use href="#L"/></g><g id="n34-3" class="g" transform="translate(188 1778)"><ellipse rx="17.5" ry="21.5"/><use href="#L"/></g><g id="n34-4" class="r" transform="translate(240 1778)"><ellipse rx="17.5" ry="21.5"/><use href="#L"/></g><g id="n34-5" class="r" transform="translate(292 1778)"><ellipse rx="17.5" ry="21.5"/><use href="#L"/></g><g id="n34-6" class="r" transform="translate(344 1778)"><ellipse rx="17.5" ry="21.5"/><use href="#L"/></g><g id="n34-7" class="r" transform="translate(396 1778)"><ellipse rx="17.5" ry="21.5"/><use href="#L"/></g><g id="n34-8" class="r" transform="translate(448 1778)"><ellipse rx="17.5" ry="21.5"/><use href="#L"/></g><g id="n34-9" class="r" transform="translate(500 1778)"><ellipse rx="17.5" ry="21.5"/><use href="#L"/></g><g id="n34-10" class="r" transform="translate(552 1778)"><ellipse rx="17.5" ry="21.5"/><use href="#L"/></g><g id="n34-11" class="g" transform="translate(604 1778)"><ellipse rx="17.5" ry="21.5"/><use href="#L"/></g><g id="n34-12" class="g" transform="translate(656 1778)"><ellipse rx="17.5" ry="21.5"/><use href="#L"/></g><g id="n34-13" class="g" transform="translate(708 1778)"><ellipse rx="17.5" ry="21.5"/><use href="#L"/></g>
<g id="n35-1" class="g" transform="translate(84 1830)"><ellipse rx="17.5" ry="21.5"/><use href="#R"/></g><g id="n35-2" class="y" transform="translate(136 1830)"><ellipse rx="17.5" ry="21.5"/><use href="#R"/></g><g id="n35-3" class="r" transform="translate(188 1830)"><ellipse rx="17.5" ry="21.5"/><use href="#R"/></g><g id="n35-4" class="r" transform="translate(240 1830)"><ellipse rx="17.5" ry="21.5"/><use href="#R"/></g><g id="n35-5" class="r" transform="translate(292 1830)"><ellipse rx="17.5" ry="21.5"/><use href="#R"/></g><g id="n35-6" class="r" transform="translate(344 1830)"><ellipse rx="17.5" ry="21.5"/><use href="#R"/></g><g id="n35-7" class="r" transform="translate(396 1830)"><ellipse rx="17.5" ry="21.5"/><use href="#R"/></g><g id="n35-8" class="r" transform="translate(448 1830)"><ellipse rx="17.5" ry="21.5"/><use href="#R"/></g><g id="n35-9" class="r" transform="translate(500 1830)"><ellipse rx="17.5" ry="21.5"/><use href="#R"/></g><g id="n35-10" class="r" transform="translate(552 1830)"><ellipse rx="17.5" ry="21.5"/><use href="#R"/></g><g id="n35-11" class="r" transform="translate(604 1830)"><ellipse rx="17.5" ry="21.5"/><use href="#R"/></g><g id="n35-12" class="y" transform="translate(656 1830)"><ellipse rx="17.5" ry="21.5"/><use href="#R"/></g><g id="n35-13" class="g" transform="translate(708 1830)"><ellipse rx="17.5" ry="21.5"/><use href="#R"/></g>
<g id="n36-1" class="g" transform="translate(84 1882)"><ellipse rx="17.5" ry="21.5"/><use href="#L"/></g><g id="n36-2" class="g" transform="translate(136 1882)"><ellipse rx="17.5" ry="21.5"/><use href="#L"/></g><g id="n36-3" class="r" transform="translate(188 1882)"><ellipse rx="17.5" ry="21.5"/><use href="#L"/></g><g id="n36-4" class="r" transform="translate(240 1882)"><ellipse rx="17.5" ry="21.5"/><use href="#L"/></g><g id="n36-5" class="r" transform="translate(292 1882)"><ellipse rx="17.5" ry="21.5"/><use href="#L"/></g><g id="n36-6" class="r" transform="translate(344 1882)"><ellipse rx="17.5" ry="21.5"/><use href="#L"/></g><g id="n36-7" class="r" transform="translate(396 1882)"><ellipse rx="17.5" ry="21.5"/><use href="#L"/></g><g id="n36-8" class="r" transform="translate(448 1882)"><ellipse rx="17.5" ry="21.5"/><use href="#L"/></g><g id="n36-9" class="r" transform="translate(500 1882)"><ellipse rx="17.5" ry="21.5"/><use href="#L"/></g><g id="n36-10" class="r" transform="translate(552 1882)"><ellipse rx="17.5" ry="21.5"/><use href="#L"/></g><g id="n36-11" class="r" transform="translate(604 1882)"><ellipse rx="17.5" ry="21.5"/><use href="#L"/></g><g id="n36-12" class="g" transform="translate(656 1882)"><ellipse rx="17.5" ry="21.5"/><use href="#L"/></g><g id="n36-13" class="g" transform="translate(708 1882)"><ellipse rx="17.5" ry="21.5"/><use href="#L"/></g>
<g id="n37-1" class="g" transform="translate(84 1934)"><ellipse rx="17.5" ry="21.5"/><use href="#R"/></g><g id="n37-2" class="y" transform="translate(136 1934)"><ellipse rx="17.5" ry="21.5"/><use href="#R"/></g><g id="n37-3" class="r" transform="translate(188 1934)"><ellipse rx="17.5" ry="21.5"/><use href="#R"/></g><g id="n37-4" class="r" transform="translate(240 1934)"><ellipse rx="17.5" ry="21.5"/><use href="#R"/></g><g id="n37-5" class="r" transform="translate(292 1934)"><ellipse rx="17.5" ry="21.5"/><use href="#R"/></g><g id="n37-6" class="r" transform="translate(344 1934)"><ellipse rx="17.5" ry="21.5"/><use href="#R"/></g><g id="n37-7" class="r" transform="translate(396 1934)"><ellipse rx="17.5" ry="21.5"/><use href="#R"/></g><g id="n37-8" class="r" transform="translate(448 1934)"><ellipse rx="17.5" ry="21.5"/><use href="#R"/></g><g id="n37-9" class="r" transform="translate(500 1934)"><ellipse rx="17.5" ry="21.5"/><use href="#R"/></g><g id="n37-10" class="r" transform="translate(552 1934)"><ellipse rx="17.5" ry="21.5"/><use href="#R"/></g><g id="n37-11" class="r" transform="translate(604 1934)"><ellipse rx="17.5" ry="21.5"/><use href="#R"/></g><g id="n37-12" class="y" transform="translate(656 1934)"><ellipse rx="17.5" ry="21.5"/><use href="#R"/></g><g id="n37-13" class="g" transform="translate(708 1934)"><ellipse rx="17.5" ry="21.5"/><use href="#R"/></g>
<g id="n38-1" class="g" transform="translate(84 1986)"><ellipse rx="17.5" ry="21.5"/><use href="#L"/></g><g id="n38-2" class="g" transform="translate(136 1986)"><ellipse rx="17.5" ry="21.5"/><use href="#L"/></g><g id="n38-3" class="r" transform="translate(188 1986)"><ellipse rx="17.5" ry="21.5"/><use href="#L"/></g><g id="n38-4" class="r" transform="translate(240 1986)"><ellipse rx="17.5" ry="21.5"/><use href="#L"/></g><g id="n38-5" class="r" transform="translate(292 1986)"><ellipse rx="17.5" ry="21.5"/><use href="#L"/></g><g id="n38-6" class="r" transform="translate(344 1986)"><ellipse rx="17.5" ry="21.5"/><use href="#L"/></g><g id="n38-7" class="r" transform="translate(396 1986)"><ellipse rx="17.5" ry="21.5"/><use href="#L"/></g><g id="n38-8" class="r" transform="translate(448 1986)"><ellipse rx="17.5" ry="21.5"/><use href="#L"/></g><g id="n38-9" class="r" transform="translate(500 1986)"><ellipse rx="17.5" ry="21.5"/><use href="#L"/></g><g id="n38-10" class="r" transform="translate(552 1986)"><ellipse rx="17.5" ry="21.5"/><use href="#L"/></g><g id="n38-11" class="r" transform="translate(604 1986)"><ellipse rx="17.5" ry="21.5"/><use href="#L"/></g><g id="n38-12" class="g" transform="translate(656 1986)"><ellipse rx="17.5" ry="21.5"/><use href="#L"/></g><g id="n38-13" class="g" transform="translate(708 1986)"><ellipse rx="17.5" ry="21.5"/><use href="#L"/></g>
<g id="n39-1" class="g" transform="translate(84 2038)"><ellipse rx="17.5" ry="21.5"/><use href="#R"/></g><g id="n39-2" class="y" transform="translate(136 2038)"><ellipse rx="17.5" ry="21.5"/><use href="#R"/></g><g id="n39-3" class="r" transform="translate(188 2038)"><ellipse rx="17.5" ry="21.5"/><use href="#R"/></g><g id="n39-4" class="r" transform="translate(240 2038)"><ellipse rx="17.5" ry="21.5"/><use href="#R"/></g><g id="n39-5" class="r" transform="translate(292 2038)"><ellipse rx="17.5" ry="21.5"/><use href="#R"/></g><g id="n39-6" class="r" transform="translate(344 2038)"><ellipse rx="17.5" ry="21.5"/><use href="#R"/></g><g id="n39-7" class="r" transform="translate(396 2038)"><ellipse rx="17.5" ry="21.5"/><use href="#R"/></g><g id="n39-8" class="r" transform="translate(448 2038)"><ellipse rx="17.5" ry="21.5"/><use href="#R"/></g><g id="n39-9" class="r" transform="translate(500 2038)"><ellipse rx="17.5" ry="21.5"/><use href="#R"/></g><g id="n39-10" class="r" transform="translate(552 2038)"><ellipse rx="17.5" ry="21.5"/><use href="#R"/></g><g id="n39-11" class="r" transform="translate(604 2038)"><ellipse rx="17.5" ry="21.5"/><use href="#R"/></g><g id="n39-12" class="y" transform="translate(656 2038)"><ellipse rx="17.5" ry="21.5"/><use href="#R"/></g><g id="n39-13" class="g" transform="translate(708 2038)"><ellipse rx="17.5" ry="21.5"/><use href="#R"/></g>
<g id="n40-1" class="g" transform="translate(84 2090)"><ellipse rx="17.5" ry="21.5"/><use href="#L"/></g><g id="n40-2" class="g" transform="translate(136 2090)"><ellipse rx="17.5" ry="21.5"/><use href="#L"/></g><g id="n40-3" class="g" transform="translate(188 2090)"><ellipse rx="17.5" ry="21.5"/><use href="#L"/></g><g id="n40-4" class="r" transform="translate(240 2090)"><ellipse rx="17.5" ry="21.5"/><use href="#L"/></g><g id="n40-5" class="r" transform="translate(292 2090)"><ellipse rx="17.5" ry="21.5"/><use href="#L"/></g><g id="n40-6" class="r" transform="translate(344 2090)"><ellipse rx="17.5" ry="21.5"/><use href="#L"/></g><g id="n40-7" class="r" transform="translate(396 2090)"><ellipse rx="17.5" ry="21.5"/><use href="#L"/></g><g id="n40-8" class="r" transform="translate(448 2090)"><ellipse rx="17.5" ry="21.5"/><use href="#L"/></g><g id="n40-9" class="r" transform="translate(500 2090)"><ellipse rx="17.5" ry="21.5"/><use href="#L"/></g><g id="n40-10" class="r" transform="translate(552 2090)"><ellipse rx="17.5" ry="21.5"/><use href="#L"/></g><g id="n40-11" class="g" transform="translate(604 2090)"><ellipse rx="17.5" ry="21.5"/><use href="#L"/></g><g id="n40-12" class="g" transform="translate(656 2090)"><ellipse rx="17.5" ry="21.5"/><use href="#L"/></g><g id="n40-13" class="g" transform="translate(708 2090)"><ellipse rx="17.5" ry="21.5"/><use href="#L"/></g>
<g id="n41-1" class="g" transform="translate(84 2142)"><ellipse rx="17.5" ry="21.5"/><use href="#R"/></g><g id="n41-2" class="g" transform="translate(136 2142)"><ellipse rx="17.5" ry="21.5"/><use href="#R"/></g><g id="n41-3" class="y" transform="translate(188 2142)"><ellipse rx="17.5" ry="21.5"/><use href="#R"/></g><g id="n41-4" class="g" transform="translate(240 2142)"><ellipse rx="17.5" ry="21.5"/><use href="#R"/></g><g id="n41-5" class="r" transform="translate(292 2142)"><ellipse rx="17.5" ry="21.5"/><use href="#R"/></g><g id="n41-6" class="r" transform="translate(344 2142)"><ellipse rx="17.5" ry="21.5"/><use href="#R"/></g><g id="n41-7" class="r" transform="translate(396 2142)"><ellipse rx="17.5" ry="21.5"/><use href="#R"/></g><g id="n41-8" class="r" transform="translate(448 2142)"><ellipse rx="17.5" ry="21.5"/><use href="#R"/></g><g id="n41-9" class="r" transform="translate(500 2142)"><ellipse rx="17.5" ry="21.5"/><use href="#R"/></g><g id="n41-10" class="g" transform="translate(552 2142)"><ellipse rx="17.5" ry="21.5"/><use href="#R"/></g><g id="n41-11" class="y" transform="translate(604 2142)"><ellipse rx="17.5" ry="21.5"/><use href="#R"/></g><g id="n41-12" class="g" transform="translate(656 2142)"><ellipse rx="17.5" ry="21.5"/><use href="#R"/></g><g id="n41-13" class="g" transform="translate(708 2142)"><ellipse rx="17.5" ry="21.5"/><use href="#R"/></g>
<g id="n42-1" class="g" transform="translate(84 2194)"><ellipse rx="17.5" ry="21.5"/><use href="#L"/></g><g id="n42-2" class="g" transform="translate(136 2194)"><ellipse rx="17.5" ry="21.5"/><use href="#L"/></g><g id="n42-3" class="g" transform="translate(188 2194)"><ellipse rx="17.5" ry="21.5"/><use href="#L"/></g><g id="n42-4" class="g" transform="translate(240 2194)"><ellipse rx="17.5" ry="21.5"/><use href="#L"/></g><g id="n42-5" class="y" transform="translate(292 2194)"><ellipse rx="17.5" ry="21.5"/><use href="#L"/></g><g id="n42-6" class="g" transform="translate(344 2194)"><ellipse rx="17.5" ry="21.5"/><use href="#L"/></g><g id="n42-7" class="y" transform="translate(396 2194)"><ellipse rx="17.5" ry="21.5"/><use href="#L"/></g><g id="n42-8" class="g" transform="translate(448 2194)"><ellipse rx="17.5" ry="21.5"/><use href="#L"/></g><g id="n42-9" class="y" transform="translate(500 2194)"><ellipse rx="17.5" ry="21.5"/><use href="#L"/></g><g id="n42-10" class="g" transform="translate(552 2194)"><ellipse rx="17.5" ry="21.5"/><use href="#L"/></g><g id="n42-11" class="g" transform="translate(604 2194)"><ellipse rx="17.5" ry="21.5"/><use href="#L"/></g><g id="n42-12" class="g" transform="translate(656 2194)"><ellipse rx="17.5" ry="21.5"/><use href="#L"/></g><g id="n42-13" class="g" transform="translate(708 2194)"><ellipse rx="17.5" ry="21.5"/><use href="#L"/></g>
<g id="n43-1" class="g" transform="translate(84 2246)"><ellipse rx="17.5" ry="21.5"/><use href="#R"/></g><g id="n43-2" class="g" transform="translate(136 2246)"><ellipse rx="17.5" ry="21.5"/><use href="#R"/></g><g id="n43-3" class="g" transform="translate(188 2246)"><ellipse rx="17.5" ry="21.5"/><use href="#R"/></g><g id="n43-4" class="g" transform="translate(240 2246)"><ellipse rx="17.5" ry="21.5"/><use href="#R"/></g><g id="n43-5" class="g" transform="translate(292 2246)"><ellipse rx="17.5" ry="21.5"/><use href="#R"/></g><g id="n43-6" class="g" transform="translate(344 2246)"><ellipse rx="17.5" ry="21.5"/><use href="#R"/></g><g id="n43-7" class="g" transform="translate(396 2246)"><ellipse rx="17.5" ry="21.5"/><use href="#R"/></g><g id="n43-8" class="g" transform="translate(448 2246)"><ellipse rx="17.5" ry="21.5"/><use href="#R"/></g><g id="n43-9" class="g" transform="translate(500 2246)"><ellipse rx="17.5" ry="21.5"/><use href="#R"/></g><g id="n43-10" class="g" transform="translate(552 2246)"><ellipse rx="17.5" ry="21.5"/><use href="#R"/></g><g id="n43-11" class="g" transform="translate(604 2246)"><ellipse rx="17.5" ry="21.5"/><use href="#R"/></g><g id="n43-12" class="g" transform="translate(656 2246)"><ellipse rx="17.5" ry="21.5"/><use href="#R"/></g><g id="n43-13" class="g" transform="translate(708 2246)"><ellipse rx="17.5" ry="21.5"/><use href="#R"/></g>
</g>
<text class="wm" x="396" y="1185">BRACELETBOOK.COM</text>
</svg>
